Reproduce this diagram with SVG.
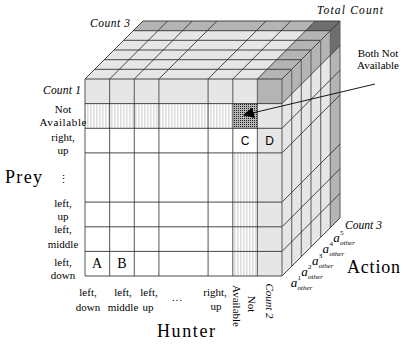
<svg xmlns="http://www.w3.org/2000/svg" width="403" height="348" viewBox="0 0 403 348">
<defs>
<pattern id="stripes" width="3" height="10" patternUnits="userSpaceOnUse">
<rect width="3" height="10" fill="#ffffff"/>
<rect x="0" width="1.6" height="10" fill="#dedede"/>
</pattern>
<pattern id="dots" width="2" height="2" patternUnits="userSpaceOnUse">
<rect width="2" height="2" fill="#b8b8b8"/>
<rect width="1" height="1" fill="#202020"/>
</pattern>
<marker id="arrow" viewBox="0 0 10 10" refX="9" refY="5" markerWidth="11" markerHeight="11" markerUnits="userSpaceOnUse" orient="auto">
<path d="M0,0 L10,5 L0,10 z" fill="#000"/>
</marker>
<style>
.serif{font-family:"Liberation Serif","Times New Roman",serif;fill:#000}
.lab{font-size:11px;text-anchor:middle}
.ital{font-style:italic}
.big{font-size:18px}
.sans{font-family:"Liberation Sans",Arial,sans-serif;font-size:12px;text-anchor:middle}
.g{stroke:#333;stroke-width:0.9;fill:none}
.gv{stroke:#666;stroke-width:1.1;fill:none}
</style>
</defs>

<g id="cube">
<polygon points="85,79 282,79 340,21 143,21" fill="#e6e6e6"/>
<polygon points="133.3,30.7 330.3,30.7 340,21 143,21" fill="#b4b4b4"/>
<polygon points="257.4,79 282,79 340,21 315.4,21" fill="#b4b4b4"/>
<polygon points="305.7,30.7 330.3,30.7 340,21 315.4,21" fill="#6e6e6e"/>
<polygon points="282,79 340,21 340,218 282,276" fill="#e6e6e6"/>
<polygon points="330.3,30.7 340,21 340,218 330.3,227.7" fill="#b4b4b4"/>
<polygon points="282,79 340,21 340,45.6 282,103.6" fill="#b4b4b4"/>
<polygon points="330.3,30.7 340,21 340,45.6 330.3,55.3" fill="#6e6e6e"/>
<rect x="85" y="79" width="197" height="197" fill="#ffffff"/>
<rect x="85" y="79" width="172.4" height="24.6" fill="#e6e6e6"/>
<rect x="257.4" y="79" width="24.6" height="24.6" fill="#b4b4b4"/>
<rect x="85" y="103.6" width="147.8" height="24.7" fill="url(#stripes)"/>
<rect x="232.8" y="103.6" width="24.6" height="24.7" fill="url(#dots)"/>
<rect x="257.4" y="103.6" width="24.6" height="172.4" fill="#e6e6e6"/>
<rect x="232.8" y="152.9" width="24.6" height="123.1" fill="url(#stripes)"/>
</g>

<g id="grid">
<path class="g" d="M94.7,69.3H291.7 M104.3,59.7H301.3 M114,50H311 M123.7,40.3H320.7 M133.3,30.7H330.3 M143,21H340"/>
<path class="g" d="M85,79L143,21 M109.6,79L167.6,21 M134.3,79L192.3,21 M158.9,79L216.9,21 M208.1,79L266.1,21 M232.8,79L290.8,21 M257.4,79L315.4,21 M282,79L340,21"/>
<path class="gv" d="M291.7,69.3V266.3 M301.3,59.7V256.7 M311,50V247 M320.7,40.3V237.3 M330.3,30.7V227.7 M340,21V218"/>
<path class="g" d="M282,103.6L340,45.6 M282,128.3L340,70.3 M282,152.9L340,94.9 M282,202.1L340,144.1 M282,226.8L340,168.8 M282,251.4L340,193.4 M282,276L340,218"/>
<path class="gv" d="M85,79V276 M109.6,79V276 M134.3,79V276 M158.9,79V276 M208.1,79V276 M232.8,79V276 M257.4,79V276 M282,79V276"/>
<path class="g" d="M85,79H282 M85,103.6H282 M85,128.3H282 M85,152.9H282 M85,202.1H282 M85,226.8H282 M85,251.4H282 M85,276H282"/>
</g>

<g id="cells">
<text class="serif" x="97" y="268" font-size="14" text-anchor="middle" font-family="Liberation Serif, serif">A</text>
<text class="serif" x="122" y="268" font-size="14" text-anchor="middle" font-family="Liberation Serif, serif">B</text>
<text class="sans" x="245" y="145">C</text>
<text class="sans" x="269.7" y="145">D</text>
</g>

<g id="connectors">
<line x1="375" y1="84" x2="244" y2="115" stroke="#000" stroke-width="0.9" marker-end="url(#arrow)"/>
</g>

<g id="labels" font-family="Liberation Serif, Times New Roman, serif">
<text class="serif ital" x="90" y="27" font-size="11.5" textLength="40">Count 3</text>
<text class="serif ital" x="317" y="14" font-size="11.5" textLength="66">Total Count</text>
<text class="serif ital" x="43" y="94" font-size="11.5" textLength="38">Count 1</text>
<text class="serif lab" x="378" y="57" font-size="12">Both Not</text>
<text class="serif lab" x="378" y="69" font-size="12">Available</text>

<text class="serif lab" x="63" y="113">Not</text>
<text class="serif lab" x="63" y="126" textLength="47">Available</text>
<text class="serif lab" x="63" y="141">right,</text>
<text class="serif lab" x="63" y="154">up</text>
<text class="serif lab" x="63" y="183" font-size="13">⋮</text>
<text class="serif lab" x="63" y="207">left,</text>
<text class="serif lab" x="63" y="220">up</text>
<text class="serif lab" x="63" y="233">left,</text>
<text class="serif lab" x="63" y="248">middle</text>
<text class="serif lab" x="63" y="266">left,</text>
<text class="serif lab" x="63" y="279">down</text>
<text class="serif big" x="5" y="183" textLength="37">Prey</text>

<text class="serif lab" x="88" y="296">left,</text>
<text class="serif lab" x="88" y="311">down</text>
<text class="serif lab" x="123" y="296">left,</text>
<text class="serif lab" x="123" y="311">middle</text>
<text class="serif lab" x="149" y="296">left,</text>
<text class="serif lab" x="148" y="311">up</text>
<text class="serif lab" x="177" y="301">…</text>
<text class="serif lab" x="215" y="296">right,</text>
<text class="serif lab" x="216" y="310">up</text>
<text class="serif lab" transform="translate(247.5,304) rotate(90)">Not</text>
<text class="serif lab" transform="translate(233,306) rotate(90)">Available</text>
<text class="serif lab ital" transform="translate(266,301) rotate(90)">Count 2</text>
<text class="serif big" x="157" y="337" textLength="58">Hunter</text>

<text class="serif ital" x="345" y="229" font-size="11.5" textLength="37">Count 3</text>
<text class="serif big" x="347" y="273" textLength="53">Action</text>

<text class="serif ital" x="290.7" y="287" font-size="13">a</text>
<text class="serif" x="297.5" y="280" font-size="7">1</text>
<text class="serif ital" x="297.5" y="290" font-size="7">other</text>
<text class="serif ital" x="301.3" y="275.8" font-size="13">a</text>
<text class="serif" x="308.1" y="268.8" font-size="7">2</text>
<text class="serif ital" x="308.1" y="278.8" font-size="7">other</text>
<text class="serif ital" x="312" y="264.5" font-size="13">a</text>
<text class="serif" x="318.8" y="257.5" font-size="7">3</text>
<text class="serif ital" x="318.8" y="267.5" font-size="7">other</text>
<text class="serif ital" x="322.6" y="253.3" font-size="13">a</text>
<text class="serif" x="329.4" y="246.3" font-size="7">4</text>
<text class="serif ital" x="329.4" y="256.3" font-size="7">other</text>
<text class="serif ital" x="333.3" y="242" font-size="13">a</text>
<text class="serif" x="340.1" y="235" font-size="7">5</text>
<text class="serif ital" x="340.1" y="245" font-size="7">other</text>
</g>
</svg>
